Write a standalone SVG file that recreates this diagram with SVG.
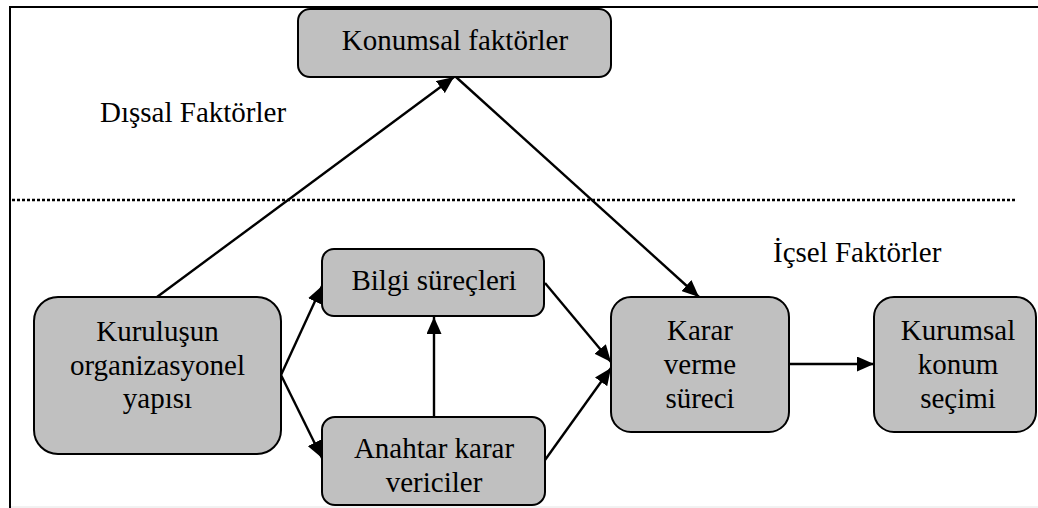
<svg xmlns="http://www.w3.org/2000/svg" width="1038" height="508" viewBox="0 0 1038 508" font-family="Liberation Serif, Times New Roman, Times, serif">
<style>
.box{fill:#c0c0c0;stroke:#000;stroke-width:2}
.t{font-size:29px;fill:#000;text-anchor:middle}
.lbl{font-size:29px;fill:#000}
.c{stroke:#000;stroke-width:2.4;fill:none;marker-end:url(#ah)}
</style>
<defs>
<marker id="ah" markerUnits="userSpaceOnUse" markerWidth="17" markerHeight="15" refX="17" refY="7.5" orient="auto">
<path d="M0,0 L17,7.5 L0,15 z" fill="#000"/>
</marker>
</defs>
<rect width="1038" height="508" fill="#fff"/>
<g id="frame">
<line x1="9" y1="7" x2="1038" y2="7" stroke="#000" stroke-width="2"/>
<line x1="10" y1="6" x2="10" y2="508" stroke="#000" stroke-width="2"/>
<line x1="11" y1="507" x2="1038" y2="507" stroke="#e4e4e4" stroke-width="1"/>
<line x1="12" y1="200" x2="1016" y2="200" stroke="#000" stroke-width="2.5" stroke-dasharray="3 2"/>
</g>
<g id="labels">
<text class="lbl" x="100" y="122" font-family="Liberation Serif">Dışsal Faktörler</text>
<text class="lbl" x="773" y="262" font-family="Liberation Serif">İçsel Faktörler</text>
</g>
<g id="connectors">
<line class="c" x1="157" y1="297" x2="454" y2="77"/>
<line class="c" x1="456" y1="77" x2="699" y2="297"/>
<line class="c" x1="281" y1="375" x2="322" y2="286"/>
<line class="c" x1="281" y1="375" x2="322" y2="458"/>
<line class="c" x1="434" y1="417" x2="434" y2="317"/>
<line class="c" x1="545" y1="283" x2="611" y2="362"/>
<line class="c" x1="545" y1="460" x2="611" y2="368"/>
<line class="c" x1="789" y1="364" x2="874" y2="364"/>
</g>
<g id="konumsal">
<rect class="box" x="298" y="9" width="313" height="68" rx="12"/>
<text class="t" x="455" y="50">Konumsal faktörler</text>
</g>
<g id="kurulusun">
<rect class="box" x="34" y="297" width="247" height="157" rx="24"/>
<text class="t" x="157.5" y="341">Kuruluşun</text>
<text class="t" x="157.5" y="375">organizasyonel</text>
<text class="t" x="157.5" y="408">yapısı</text>
</g>
<g id="bilgi">
<rect class="box" x="322" y="249" width="222" height="67" rx="12"/>
<text class="t" x="434" y="290">Bilgi süreçleri</text>
</g>
<g id="anahtar">
<rect class="box" x="322" y="417" width="223" height="88" rx="13"/>
<text class="t" x="434" y="458">Anahtar karar</text>
<text class="t" x="434" y="492">vericiler</text>
</g>
<g id="karar">
<rect class="box" x="611" y="297" width="178" height="135" rx="20"/>
<text class="t" x="700" y="340">Karar</text>
<text class="t" x="700" y="374">verme</text>
<text class="t" x="700" y="408">süreci</text>
</g>
<g id="kurumsal">
<rect class="box" x="874" y="297" width="162" height="135" rx="20"/>
<text class="t" x="958" y="340">Kurumsal</text>
<text class="t" x="958" y="374">konum</text>
<text class="t" x="958" y="408">seçimi</text>
</g>
</svg>
